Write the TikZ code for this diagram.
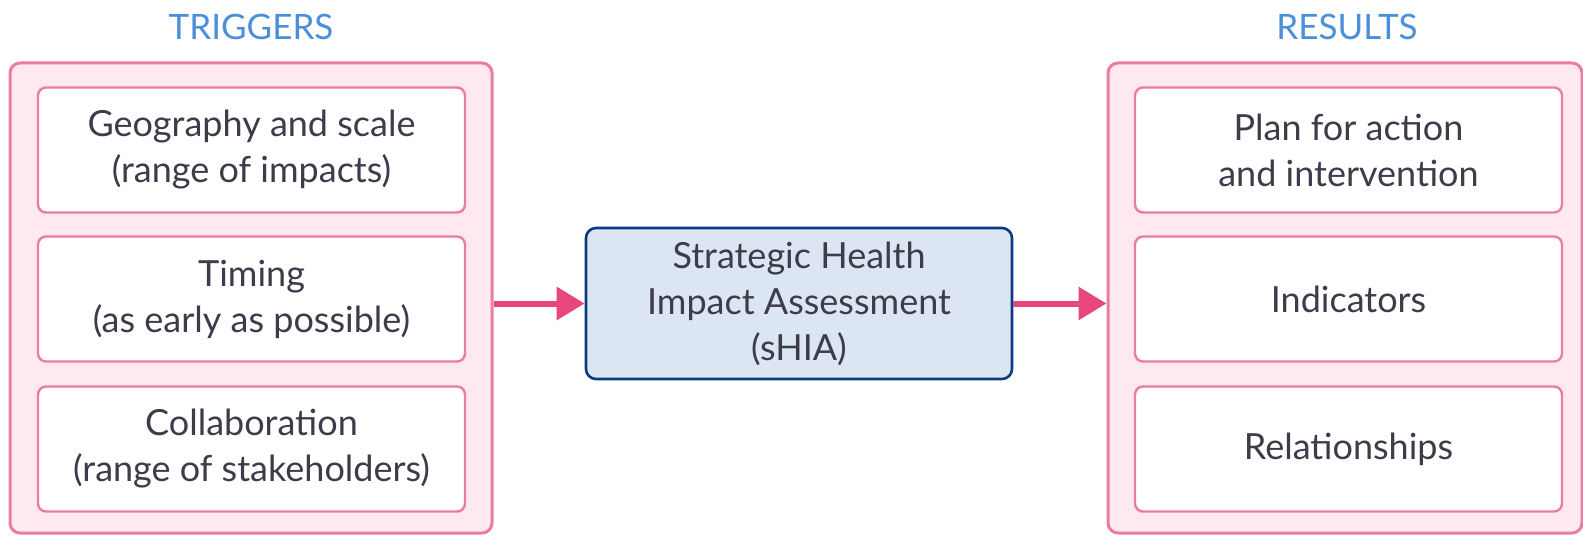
\documentclass[tikz,border=0pt]{standalone}
\usepackage{fontspec}
\setmainfont{Lato}
\usetikzlibrary{positioning,arrows.meta}
\definecolor{pinkline}{HTML}{EB7CA2}
\definecolor{pinkfill}{HTML}{FDE9EF}
\definecolor{arrowpink}{HTML}{E8467F}
\definecolor{navyline}{HTML}{0B3A82}
\definecolor{paleblue}{HTML}{DCE6F2}
\definecolor{headblue}{HTML}{4A8FD9}
\definecolor{bodytext}{HTML}{3C3C4A}
\begin{document}
\begin{tikzpicture}[x=0.5pt,y=-0.5pt,
  every node/.style={font=\fontsize{18}{23}\selectfont, text=bodytext, align=center},
  outerbox/.style={draw=pinkline, fill=pinkfill, line width=1.5pt, rounded corners=5pt,
    minimum width=241pt, minimum height=235pt},
  itembox/.style={draw=pinkline, fill=white, line width=1.2pt, rounded corners=4pt,
    minimum width=213.5pt, minimum height=62.5pt},
  mainbox/.style={draw=navyline, fill=paleblue, line width=1.3pt, rounded corners=5pt,
    minimum width=213pt, minimum height=75.5pt},
  heading/.style={text=headblue, font=\fontsize{17.5}{21}\selectfont},
  flow/.style={draw=arrowpink, line width=3pt, -{Triangle[length=14pt,width=16pt]}}]
  \useasboundingbox (0,0) rectangle (1583,535);
  % column headings
  \node[heading] (trighead) at (251,27) {TRIGGERS};
  \node[heading] (reshead) at (1347,27) {RESULTS};
  % the two grouping boxes
  \node[outerbox] (trig) at (251,298) {};
  \node[outerbox, minimum width=237pt] (res) at (1345,298) {};
  % items inside the boxes
  \foreach [count=\i] \lab/\y in {{Geography and scale\\(range of impacts)}/150,
      {Timing\\(as early as possible)}/299, {Collaboration\\(range of stakeholders)}/449} {
    \node[itembox] (trig\i) at (251.5,\y) {\lab};
  }
  \foreach [count=\i] \lab/\y in {{Plan for action\\and intervention}/150,
      {Indicators}/299, {Relationships}/449} {
    \node[itembox] (res\i) at (1348.5,\y) {\lab};
  }
  % the assessment itself
  \node[mainbox] (shia) at (799,303.5) {Strategic Health\\Impact Assessment\\(sHIA)};
  \draw[flow] (trig.east |- shia.west) -- (shia.west);
  \draw[flow] (shia.east) -- (res.west |- shia.east);
\end{tikzpicture}
\end{document}
